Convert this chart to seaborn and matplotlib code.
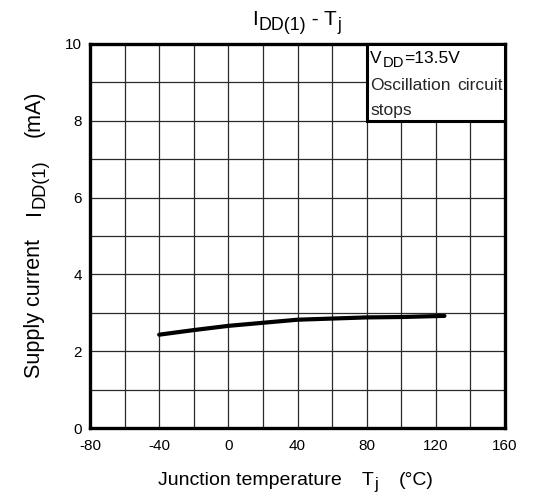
import matplotlib
matplotlib.use("Agg")
import matplotlib.pyplot as plt
import seaborn as sns
import pandas as pd
from matplotlib.patches import Rectangle
from matplotlib.transforms import IdentityTransform

temps = [-40, -20, 0, 20, 40, 60, 80, 100, 125]
currents = [2.43, 2.55, 2.66, 2.74, 2.82, 2.85, 2.88, 2.89, 2.92]
x_ticks = [-80, -40, 0, 40, 80, 120, 160]
y_ticks = [0, 2, 4, 6, 8, 10]

sns.set_theme(style="white")
plt.rcParams["font.family"] = ["Liberation Sans", "DejaVu Sans"]
plt.rcParams["axes.unicode_minus"] = False

fig = plt.figure(figsize=(5.39, 5.01), dpi=100)
ax = fig.add_axes([90 / 539, 1 - 428 / 501, 415 / 539, 384 / 501])

df = pd.DataFrame({"T": temps, "I": currents})
sns.lineplot(data=df, x="T", y="I", color="black", linewidth=3, ax=ax, zorder=5)

ax.set_xlim(-80, 160)
ax.set_ylim(0, 10)
ax.set_xticks(x_ticks)
ax.set_yticks(y_ticks)
ax.set_xticks(range(-80, 161, 20), minor=True)
ax.set_yticks(range(0, 11, 1), minor=True)
ax.grid(True, which="both", color="#2a2a2a", linewidth=0.9)
ax.tick_params(axis="both", which="both", length=0, labelsize=11, colors="black")
ax.tick_params(axis="x", pad=8)
ax.tick_params(axis="y", pad=6)
for s in ax.spines.values():
    s.set_visible(True)
    s.set_color("black")
    s.set_linewidth(2.4)
ax.set_xlabel("")
ax.set_ylabel("")

renderer = fig.canvas.get_renderer()


def rich(pieces, x, y, size, rot=0, align="center", sub_scale=0.85,
         sub_drop=0.22, zorder=3):
    """Draw a run of text pieces at (x, y) in pixel coords.
    pieces: (text, kind) with kind 'n' normal, 's' subscript, 'g' gap in em."""
    px = fig.dpi / 72.0
    items = []
    total = 0.0
    for txt, kind in pieces:
        if kind == "g":
            w = txt * size * px
            items.append((None, w, kind))
            total += w
            continue
        fs = size * sub_scale if kind == "s" else size
        t = fig.text(0, 0, txt, fontsize=fs, transform=IdentityTransform(),
                     ha="left", va="baseline", rotation=rot,
                     rotation_mode="anchor", color="black", zorder=zorder)
        bb = t.get_window_extent(renderer)
        w = bb.width if rot == 0 else bb.height
        items.append((t, w + 0.6, kind))
        total += w + 0.6
    pos = -total / 2.0 if align == "center" else 0.0
    drop = sub_drop * size * px
    for t, w, kind in items:
        if t is not None:
            d = drop if kind == "s" else 0
            if rot == 0:
                t.set_position((x + pos, y - d))
            else:
                t.set_position((x + d, y + pos))
        pos += w


H = 501
# title
rich([("I", "n"), ("DD(1)", "s"), (" - T", "n"), ("j", "s")], 297, H - 25, 15)
# x label
rich([("Junction temperature", "n"), (1.0, "g"), ("T", "n"), ("j", "s"),
      (1.0, "g"), ("(°C)", "n")], 296, H - 485, 14)
# y label
rich([("Supply current", "n"), (1.1, "g"), ("I", "n"), ("DD(1)", "s"),
      (1.0, "g"), ("(mA)", "n")], 40, H - 234, 15.5, rot=90)

# condition box
rect = Rectangle((80, 8), 80, 2, facecolor="white", edgecolor="black",
                 linewidth=2.2, zorder=6, clip_on=False)
ax.add_patch(rect)
box_fs = 12.5
bx, by = ax.transData.transform((82, 9.50))
rich([("V", "n"), ("DD", "s"), ("=13.5V", "n")], bx, by, box_fs,
     align="left", zorder=7)
ax.text(82, 8.80, "Oscillation", fontsize=box_fs, va="baseline", ha="left", zorder=7)
ax.text(158.5, 8.80, "circuit", fontsize=box_fs, va="baseline", ha="right", zorder=7)
ax.text(82, 8.15, "stops", fontsize=box_fs, va="baseline", ha="left", zorder=7)

fig.savefig("out.png", dpi=100)
